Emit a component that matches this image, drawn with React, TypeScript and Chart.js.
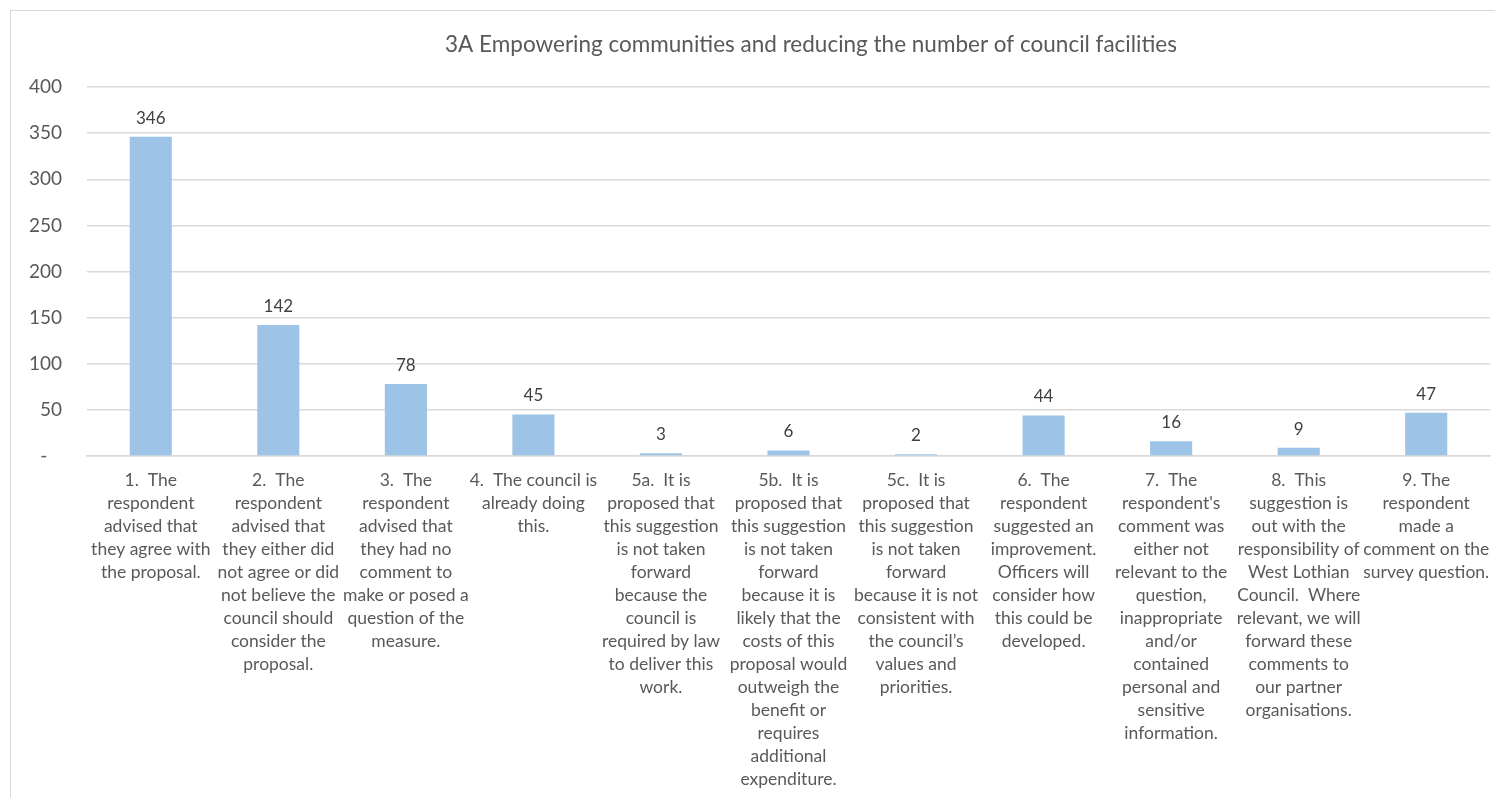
import React, { useEffect, useRef } from "react";
import { Chart, registerables } from "chart.js";

Chart.register(...registerables);

const TITLE = "3A Empowering communities and reducing the number of council facilities";

const categories: string[][] = [
  ["1.  The", "respondent", "advised that", "they agree with", "the proposal."],
  ["2.  The", "respondent", "advised that", "they either did", "not agree or did", "not believe the", "council should", "consider the", "proposal."],
  ["3.  The", "respondent", "advised that", "they had no", "comment to", "make or posed a", "question of the", "measure."],
  ["4.  The council is", "already doing", "this."],
  ["5a.  It is", "proposed that", "this suggestion", "is not taken", "forward", "because the", "council is", "required by law", "to deliver this", "work."],
  ["5b.  It is", "proposed that", "this suggestion", "is not taken", "forward", "because it is", "likely that the", "costs of this", "proposal would", "outweigh the", "benefit or", "requires", "additional", "expenditure."],
  ["5c.  It is", "proposed that", "this suggestion", "is not taken", "forward", "because it is not", "consistent with", "the council\u2019s", "values and", "priorities."],
  ["6.  The", "respondent", "suggested an", "improvement.", "Officers will", "consider how", "this could be", "developed."],
  ["7.  The", "respondent's", "comment was", "either not", "relevant to the", "question,", "inappropriate", "and/or", "contained", "personal and", "sensitive", "information."],
  ["8.  This", "suggestion is", "out with the", "responsibility of", "West Lothian", "Council.  Where", "relevant, we will", "forward these", "comments to", "our partner", "organisations."],
  ["9. The", "respondent", "made a", "comment on the", "survey question."],
];

const counts: number[] = [346, 142, 78, 45, 3, 6, 2, 44, 16, 9, 47];

const yMin = 0;
const yMax = 400;
const yStep = 50;
const zeroTickLabel = "-";

const FONT = "Lato, 'Open Sans', sans-serif";
const TEXT = "#595959";
const GRID = "#D9D9D9";
const BAR = "#9DC3E6";

const W = 1495;
const H = 798;

export default function App() {
  const ref = useRef<HTMLCanvasElement | null>(null);

  useEffect(() => {
    if (!ref.current) return;
    const titlePlugin = {
      id: "customTitle",
      afterDraw(chart: any) {
        const ctx = chart.ctx;
        ctx.save();
        ctx.font = `22.5px ${FONT}`;
        ctx.fillStyle = TEXT;
        ctx.textAlign = "center";
        ctx.textBaseline = "middle";
        ctx.fillText(TITLE, 811, 45);
        ctx.restore();
      },
    };
    const valueLabels = {
      id: "valueLabels",
      afterDatasetsDraw(chart: any) {
        const ctx = chart.ctx;
        const meta = chart.getDatasetMeta(0);
        ctx.save();
        ctx.font = `17px ${FONT}`;
        ctx.fillStyle = "#404040";
        ctx.textAlign = "center";
        ctx.textBaseline = "bottom";
        meta.data.forEach((bar: any, i: number) => {
          ctx.fillText(String(counts[i]), bar.x, bar.y - 10);
        });
        ctx.restore();
      },
    };
    const chart = new Chart(ref.current, {
      type: "bar",
      data: {
        labels: categories,
        datasets: [
          {
            data: counts,
            backgroundColor: BAR,
            borderWidth: 0,
            categoryPercentage: 1,
            barPercentage: 0.33,
          },
        ],
      },
      options: {
        animation: false,
        responsive: false,
        layout: { padding: { top: 87, right: 5, left: 0, bottom: 0 } },
        plugins: {
          legend: { display: false },
          title: { display: false },
          tooltip: { enabled: false },
        },
        scales: {
          x: {
            grid: { display: false },
            border: { display: true, color: GRID, width: 1.5 },
            ticks: {
              color: TEXT,
              font: { family: FONT, size: 17.5, lineHeight: 23 / 17.5 },
              maxRotation: 0,
              minRotation: 0,
              autoSkip: false,
              padding: 5,
            },
            afterFit(scale: any) {
              scale.height = H - 456;
            },
          },
          y: {
            min: yMin,
            max: yMax,
            border: { display: false },
            grid: { color: GRID, lineWidth: 1.5, drawTicks: false },
            ticks: {
              stepSize: yStep,
              color: TEXT,
              font: { family: FONT, size: 19 },
              padding: 25,
              callback: (v: any) => (Number(v) === 0 ? zeroTickLabel + "   " : String(v)),
            },
            afterFit(scale: any) {
              scale.width = 87;
            },
          },
        },
      },
      plugins: [titlePlugin, valueLabels],
    });
    return () => chart.destroy();
  }, []);

  return (
    <div
      style={{
        position: "fixed",
        left: 0,
        top: 0,
        width: W,
        height: H,
        background: "#fff",
        overflow: "hidden",
      }}
    >
      <div
        style={{
          position: "absolute",
          left: 10,
          top: 10,
          width: W + 20,
          height: H + 20,
          border: `1.5px solid ${GRID}`,
        }}
      />
      <canvas ref={ref} width={W} height={H} style={{ position: "absolute", left: 0, top: 0 }} />
    </div>
  );
}
